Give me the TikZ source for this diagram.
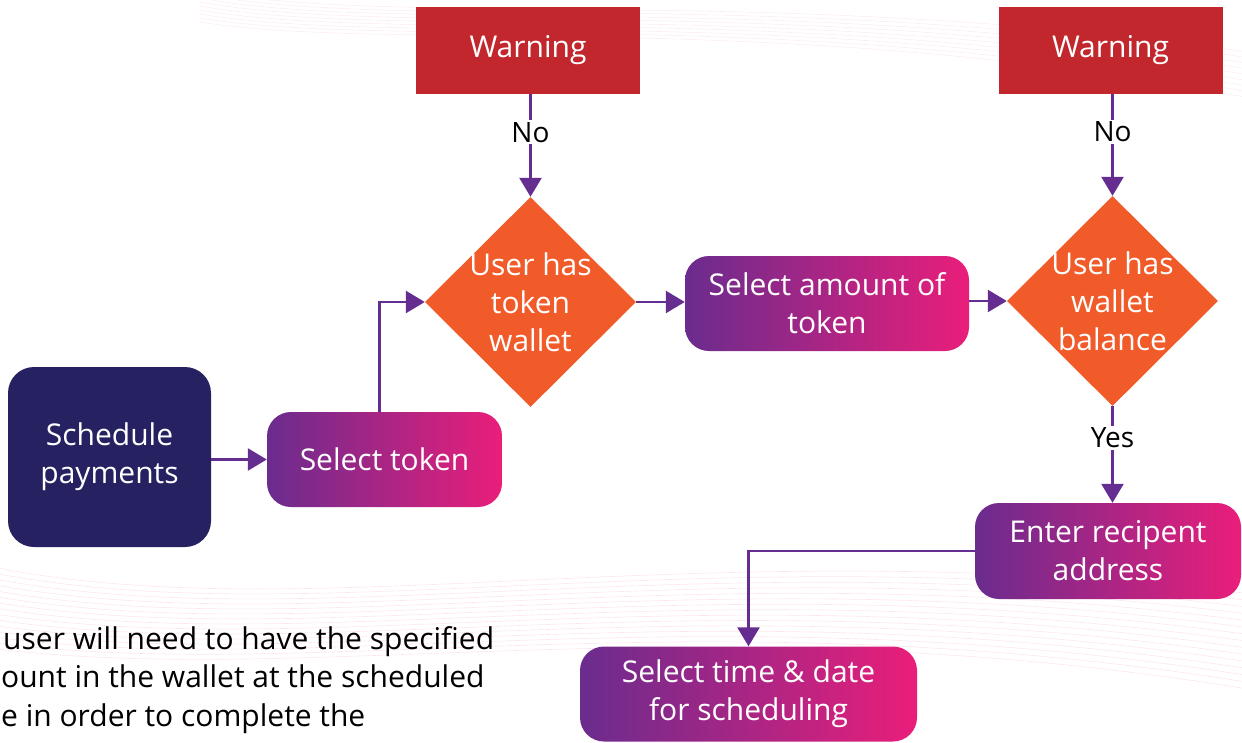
\documentclass[tikz,border=0pt]{standalone}
\usepackage{fontspec}
\setmainfont{Open Sans}
\usetikzlibrary{arrows.meta,shapes.geometric}
\definecolor{navy}{HTML}{262262}
\definecolor{gpurple}{HTML}{6A2C8E}
\definecolor{gpink}{HTML}{EA1E7A}
\definecolor{dorange}{HTML}{F15A29}
\definecolor{wred}{HTML}{C1272D}
\definecolor{arrowc}{HTML}{662D91}
\definecolor{swoosh}{HTML}{F5B8C8}
\tikzset{
  txt/.style={font=\fontsize{30}{38}\selectfont, text=white, align=center},
  gradbox/.style={rounded corners=24pt, left color=gpurple, right color=gpink, draw=none, inner sep=0pt},
  warnbox/.style={fill=wred, draw=none, inner sep=0pt, minimum width=224pt, minimum height=87pt, txt},
  decision/.style={diamond, fill=dorange, draw=none, inner sep=0pt, minimum width=211pt, minimum height=210pt},
  flow/.style={draw=arrowc, line width=2.6pt, -{Triangle[length=19pt,width=22pt]}},
  lbl/.style={fill=white, inner sep=2pt, text=black, font=\fontsize{28}{32}\selectfont},
}
\begin{document}
\begin{tikzpicture}[x=1pt,y=-1pt]
\useasboundingbox (0,0) rectangle (1242,742);
\begin{scope}
\clip (0,0) rectangle (1242,742);
% faint background swooshes
\foreach \i in {0,...,14} {
  \draw[swoosh, opacity=0.35, line width=0.6pt]
    (-40,{560+\i*6}) .. controls (300,{640+\i*4}) and (700,{520+\i*5}) .. (1300,{600+\i*7});
}
\foreach \i in {0,...,8} {
  \draw[swoosh, opacity=0.25, line width=0.6pt]
    (200,{-10+\i*4}) .. controls (400,{30+\i*3}) and (800,{-20+\i*3}) .. (1300,{60+\i*6});
}
% nodes
\node[fill=navy, rounded corners=26pt, minimum width=203pt, minimum height=180pt, inner sep=0pt, txt] (sched) at (109.5,457) {Schedule\\payments};
\node[gradbox, minimum width=235pt, minimum height=95pt, txt] (seltok) at (384.5,459.5) {Select token};
\node[decision] (d1) at (530.5,302) {};
\node[txt] at (d1) {User has\\token\\wallet};
\node[warnbox] (warn1) at (528,50.5) {Warning};
\node[gradbox, minimum width=284pt, minimum height=95pt, txt] (amount) at (827,303.5) {Select amount of\\token};
\node[decision] (d2) at (1112.5,301) {};
\node[txt] at (d2) {User has\\wallet\\balance};
\node[warnbox] (warn2) at (1110.5,50.5) {Warning};
\node[gradbox, minimum width=266pt, minimum height=96pt, txt] (entr) at (1108,551) {Enter recipent\\address};
\node[gradbox, minimum width=337pt, minimum height=95pt, txt] (selt) at (748.5,694) {Select time \& date\\for scheduling};
% connectors
\draw[flow] (sched.east |- seltok.west) -- (seltok.west);
\draw[flow] ([xshift=-5pt]seltok.north) |- (d1.west);
\draw[flow] (d1.north |- warn1.south) -- node[lbl, pos=0.37] {No} (d1.north);
\draw[flow] (d1.east) -- (d1.east -| amount.west);
\draw[flow] (amount.east |- d2.west) -- (d2.west);
\draw[flow] (d2.north |- warn2.south) -- node[lbl, pos=0.37] {No} (d2.north);
\draw[flow] (d2.south) -- node[lbl, pos=0.33] {Yes} (d2.south |- entr.north);
\draw[flow] (entr.west) -| (selt.north);
% bottom-left note
\node[anchor=north west, align=left, inner sep=0pt, text=black, font=\fontsize{30}{38.5}\selectfont] (note) at (1,626) {\hspace*{2pt}user will need to have the specified\\ount in the wallet at the scheduled\\e in order to complete the};
\end{scope}
\end{tikzpicture}
\end{document}
